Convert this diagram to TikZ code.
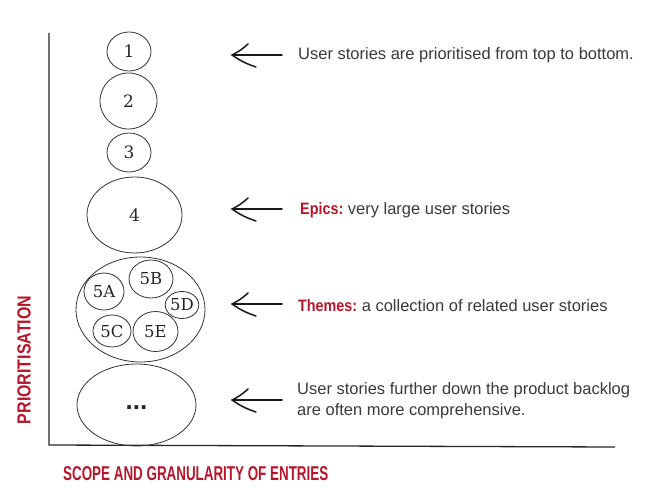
\documentclass[tikz,border=0pt]{standalone}
\usepackage{fontspec}
\usetikzlibrary{shapes.geometric}
\newfontfamily\bodyfont{Liberation Sans}
\newfontfamily\hfont{Liberation Sans Bold}
\newfontfamily\numfont{DejaVu Serif}
\definecolor{accent}{HTML}{B5162B}
\definecolor{txt}{HTML}{3A3A3A}
\newcommand{\redlabel}[2]{{\color{accent}\hfont\scalebox{#1}[1]{#2}}}
\begin{document}
\begin{tikzpicture}[x=1pt,y=-1pt,
  story/.style={ellipse, draw=black!80, line width=0.8pt, inner sep=0pt, text=black!85, font=\numfont\fontsize{17}{20}\selectfont},
  substory/.style={story, font=\numfont\fontsize{16.5}{19}\selectfont},
  note/.style={anchor=west, inner sep=0pt, text=txt, font=\bodyfont\fontsize{16.5}{21}\selectfont, align=left},
  axisline/.style={line width=1.3pt, draw=black!85},
  arrowline/.style={line width=1.5pt, draw=black!90, line cap=round, line join=round},
  harrow/.pic={\draw[arrowline] (50,0) -- (0,0);
               \draw[arrowline] (16,-11) to[bend left=8] (0,0) to[bend right=8] (24,12);}
]
\useasboundingbox (0,0) rectangle (672,500);

% axes
\coordinate (ytop) at (49,33);
\coordinate (origin) at (49,445);
\coordinate (xend) at (615,447);
\draw[axisline] (ytop) -- (origin) -- (xend);

% stories
\node[story, minimum width=44pt, minimum height=39pt] (s1) at (129,51.5) {1};
\node[story, minimum width=57pt, minimum height=56pt] (s2) at (128.5,101) {2};
\node[story, minimum width=44pt, minimum height=39pt] (s3) at (129,152.5) {3};
\node[story, minimum width=95pt, minimum height=76pt] (s4) at (134.5,215) {4};
\node[story, minimum width=129pt, minimum height=105pt] (s5) at (140.5,309.5) {};
\node[substory, minimum width=40pt, minimum height=37pt] (s5a) at (104,291.5) {5A};
\node[substory, minimum width=44pt, minimum height=38pt] (s5b) at (151,279) {5B};
\node[substory, minimum width=32pt, minimum height=27pt] (s5d) at (182,305) {5D};
\node[substory, minimum width=38pt, minimum height=32pt] (s5c) at (112,331) {5C};
\node[substory, minimum width=45pt, minimum height=40pt] (s5e) at (155.5,331.5) {5E};
\node[story, minimum width=119pt, minimum height=82pt, font=\hfont\fontsize{26}{28}\selectfont] (s6) at (136.5,405) {\raisebox{-0.6ex}{...}};

% arrows
\coordinate (a1) at (232,55);
\coordinate (a2) at (232,209);
\coordinate (a3) at (232,304);
\coordinate (a4) at (232,400);
\pic at (a1) {harrow};
\pic at (a2) {harrow};
\pic at (a3) {harrow};
\pic at (a4) {harrow};

% notes
\node[note] (n1) at (298,55) {User stories are prioritised from top to bottom.};
\node[note] (n2) at (300,210) {\redlabel{0.87}{Epics:} very large user stories};
\node[note] (n3) at (298,306) {\redlabel{0.87}{Themes:} a collection of related user stories};
\node[note] (n4) at (297,401) {User stories further down the product backlog\\are often more comprehensive.};

% axis labels
\node[anchor=west, inner sep=0pt, font=\fontsize{20}{22}\selectfont] (xlab) at (63,474) {\redlabel{0.67}{SCOPE AND GRANULARITY OF ENTRIES}};
\node[rotate=90, inner sep=0pt, font=\fontsize{19}{21}\selectfont] (ylab) at (24,360) {\redlabel{0.84}{PRIORITISATION}};
\end{tikzpicture}
\end{document}
